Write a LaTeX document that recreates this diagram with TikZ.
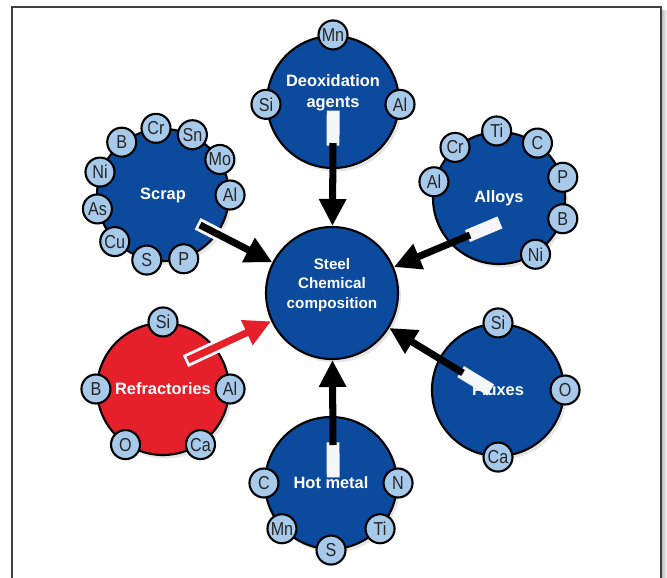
\documentclass[tikz,border=0pt]{standalone}
\usepackage{fontspec}
\setmainfont{Liberation Sans}
\newfontfamily\elemfont{Liberation Sans}[FakeStretch=0.86]
\usetikzlibrary{arrows.meta,shadows}
\definecolor{srcblue}{HTML}{0B4A9C}
\definecolor{elemblue}{HTML}{A7C9EA}
\definecolor{refred}{HTML}{E5202A}
\definecolor{framegray}{HTML}{404040}
\definecolor{halowhite}{HTML}{F4F6FA}
\tikzset{
	source/.style={circle, draw=black, line width=1.8pt, fill=srcblue, minimum size=3.96cm, inner sep=0pt,
		text=white, font=\bfseries\fontsize{14}{18}\selectfont, align=center,
		drop shadow={shadow xshift=2.5pt, shadow yshift=-3pt, opacity=0.2}},
	srctext/.style={text=white, font=\bfseries\fontsize{14}{18}\selectfont, align=center, inner sep=0pt},
	elem/.style={circle, draw=black, line width=1.8pt, fill=elemblue, minimum size=0.87cm, inner sep=0pt,
		text=black!85, font=\elemfont\fontsize{16}{16}\selectfont},
	halo/.style={sloped, pos=0, anchor=west, xshift=-2.5pt, fill=halowhite, inner sep=0pt,
		minimum height=11pt, minimum width=30pt},
	feed/.style={line width=6pt, draw=#1, fill=#1, -{Triangle[width=22pt,length=23pt]}},
	feed/.default=black
}

\begin{document}
\begin{tikzpicture}[x=0.03cm, y=-0.03cm]
	\useasboundingbox (0,0) rectangle (667,577);
	% frame
	\shade[left color=black!25, right color=black!3] (662,10) rectangle (667,577);
	\draw[framegray, line width=1.7pt] (12,580) -- (12,7) -- (661,7) -- (661,580);

	% sources
	\node[source] (deox) at (333,102) {};
	\node[source] (scrap) at (163,195) {Scrap};
	\node[source] (alloys) at (499,198) {Alloys};
	\node[source, fill=refred] (refr) at (163,389) {Refractories};
	\node[source] (flux) at (498,390) {Fluxes};
	\node[source] (hot) at (331,483) {Hot metal};
	\node[source] (steel) at (332,293) {};

	\node[srctext] (deoxlbl) at (333,93) {Deoxidation\\agents};
	\node[srctext, font=\bfseries\fontsize{13}{17}\selectfont] (steellbl) at (332,285) {Steel\\Chemical\\composition};

	% elements
	\node[elem] (deoxMn) at (deox.90) {Mn};
	\node[elem] (deoxSi) at (deox.182) {Si};
	\node[elem] (deoxAl) at (deox.-2) {Al};

	\node[elem] (scrapAl) at (scrap.0) {Al};
	\node[elem] (scrapMo) at (scrap.32) {Mo};
	\node[elem] (scrapSn) at (scrap.64) {Sn};
	\node[elem] (scrapCr) at (scrap.96) {Cr};
	\node[elem] (scrapB) at (scrap.128) {B};
	\node[elem] (scrapNi) at (scrap.160) {Ni};
	\node[elem] (scrapAs) at (scrap.192) {As};
	\node[elem] (scrapCu) at (scrap.224) {Cu};
	\node[elem] (scrapS) at (scrap.256) {S};
	\node[elem] (scrapP) at (scrap.288) {P};

	\node[elem] (alloysAl) at (alloys.166) {Al};
	\node[elem] (alloysCr) at (alloys.131) {Cr};
	\node[elem] (alloysTi) at (alloys.92) {Ti};
	\node[elem] (alloysC) at (alloys.55) {C};
	\node[elem] (alloysP) at (alloys.18) {P};
	\node[elem] (alloysB) at (alloys.-18) {B};
	\node[elem] (alloysNi) at (alloys.-57) {Ni};

	\node[elem] (refrSi) at (refr.90) {Si};
	\node[elem] (refrAl) at (refr.0) {Al};
	\node[elem] (refrCa) at (refr.-56) {Ca};
	\node[elem] (refrO) at (refr.236) {O};
	\node[elem] (refrB) at (refr.180) {B};

	\node[elem] (fluxSi) at (flux.90) {Si};
	\node[elem] (fluxO) at (flux.0) {O};
	\node[elem] (fluxCa) at (flux.-90) {Ca};

	\node[elem] (hotC) at (hot.180) {C};
	\node[elem] (hotN) at (hot.0) {N};
	\node[elem] (hotTi) at (hot.-43) {Ti};
	\node[elem] (hotS) at (hot.-90) {S};
	\node[elem] (hotMn) at (hot.223) {Mn};

	% arrows
	\coordinate (deoxT) at (333,143);
	\coordinate (scrapT) at (200,225);
	\coordinate (alloysT) at (470,235);
	\coordinate (refrT) at (188,360);
	\coordinate (fluxT) at (463,373);
	\coordinate (hotT) at (333,445);

	% glow at the tails
	\path (deoxT) -- (steel) node[halo] (deoxG) {};
	\path (scrapT) -- (steel) node[halo] (scrapG) {};
	\path (alloysT) -- (steel) node[halo] (alloysG) {};
	\path (refrT) -- (steel) node[halo] (refrG) {};
	\path (fluxT) -- (steel) node[halo] (fluxG) {};
	\path (hotT) -- (steel) node[halo] (hotG) {};

	\draw[feed] (deoxT) -- (steel);
	\draw[feed] (scrapT) -- (steel);
	\draw[feed] (alloysT) -- (steel);
	\draw[feed=refred] (refrT) -- (steel);
	\draw[feed] (fluxT) -- (steel);
	\draw[feed] (hotT) -- (steel);
\end{tikzpicture}
\end{document}
